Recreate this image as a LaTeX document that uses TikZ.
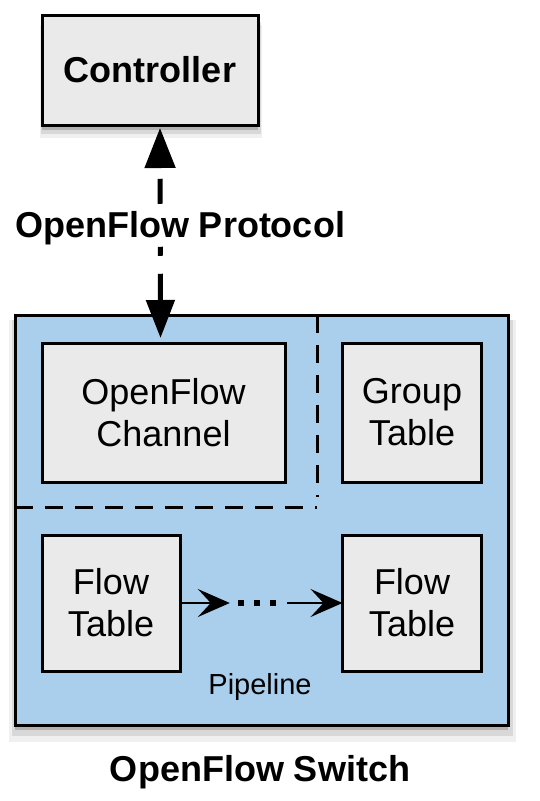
\documentclass[tikz,border=0pt]{standalone}
\usepackage{fontspec}
\setmainfont{Liberation Sans}
\usetikzlibrary{arrows.meta,shadows}
\definecolor{boxgray}{HTML}{EAEAEA}
\definecolor{switchblue}{HTML}{A9CFEC}
\tikzset{
  softshadow/.style={
    drop shadow={shadow xshift=1pt,shadow yshift=-11pt,opacity=.06,fill=black,shadow scale=1.03},
    drop shadow={shadow xshift=1pt,shadow yshift=-8pt,opacity=.10,fill=black,shadow scale=1.015},
    drop shadow={shadow xshift=0pt,shadow yshift=-5pt,opacity=.18,fill=black}},
  graybox/.style={draw=black,line width=3pt,fill=boxgray,inner sep=0pt,outer sep=0pt,align=center,
    font=\fontsize{36}{42}\selectfont},
  switchbox/.style={draw=black,line width=3pt,fill=switchblue,inner sep=0pt,outer sep=0pt},
  boldlabel/.style={font=\fontsize{36}{42}\selectfont\bfseries,inner sep=0pt},
  divider/.style={line width=3pt,dash pattern=on 18pt off 12pt},
  protoarrow/.style={line width=5pt,{Triangle[length=40pt,width=30pt]}-{Triangle[length=38pt,width=28pt]},
    dash pattern=on 0pt off 12pt on 25pt off 43pt on 9pt off 18pt on 40pt},
  pipearrow/.style={line width=2pt,-{Stealth[length=32pt,width=28pt,inset=13pt]}},
}
\begin{document}
\begin{tikzpicture}[x=1pt,y=-1pt]
\useasboundingbox (0,0) rectangle (540,801);
% controller
\node[graybox,softshadow,minimum width=216pt,minimum height=110pt,font=\fontsize{36}{42}\selectfont\bfseries] (ctrl) at (150,70) {Controller};
% switch
\node[switchbox,softshadow,minimum width=493pt,minimum height=410pt] (switch) at (261.5,520) {};
% dividers
\coordinate (divtop) at (317,315);
\coordinate (divbot) at (317,497);
\coordinate (hleft) at (15,507);
\coordinate (hright) at (317,507);
\draw[divider] (divtop) -- (divbot);
\draw[divider] (hleft) -- (hright);
% inner boxes
\node[graybox,minimum width=243pt,minimum height=139pt] (chan) at (163.5,412.5) {OpenFlow\\Channel};
\node[graybox,minimum width=139pt,minimum height=139pt] (group) at (412,412.5) {Group\\Table};
\node[graybox,minimum width=138pt,minimum height=136pt] (flowa) at (111,603) {Flow\\Table};
\node[graybox,minimum width=139pt,minimum height=136pt] (flowb) at (412,603) {Flow\\Table};
% pipeline
\node[inner sep=0pt,minimum width=40pt,minimum height=6pt] (dots) at (257,603) {};
\draw[pipearrow] (flowa.east) -- ([xshift=-7pt]dots.west);
\draw[line width=6pt,dash pattern=on 6pt off 10pt] ([xshift=-19pt]dots.center) -- ([xshift=19pt]dots.center);
\draw[pipearrow] ([xshift=10pt]dots.east) -- (flowb.west);
\node[font=\fontsize{29}{34}\selectfont,inner sep=0pt] (pipe) at (260,687) {Pipeline};
% labels
\node[boldlabel] (proto) at (180,228) {OpenFlow Protocol};
\node[boldlabel] (swlabel) at (260,772) {OpenFlow Switch};
% protocol arrow
\draw[protoarrow] ([xshift=10pt,yshift=-3pt]ctrl.south) -- ([xshift=-3pt,yshift=5pt]chan.north);
\end{tikzpicture}
\end{document}
